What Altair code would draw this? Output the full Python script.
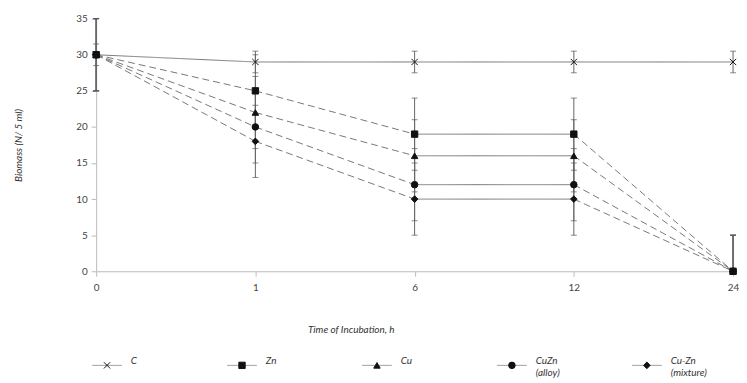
import altair as alt
import pandas as pd

times = ["0", "1", "6", "12", "24"]
series = ["C", "Zn", "Cu", "CuZn (alloy)", "Cu-Zn (mixture)"]
legend_text = ["C", "Zn", "Cu", "CuZn\n(alloy)", "Cu-Zn\n(mixture)"]
values = {
    "C": [30, 29, 29, 29, 29],
    "Zn": [30, 25, 19, 19, 0],
    "Cu": [30, 22, 16, 16, 0],
    "CuZn (alloy)": [30, 20, 12, 12, 0],
    "Cu-Zn (mixture)": [30, 18, 10, 10, 0],
}
errors = {
    "C": [1.5, 1.5, 1.5, 1.5, 1.5],
    "Zn": [5, 5, 5, 5, 5],
    "Cu": [5, 5, 5, 5, 5],
    "CuZn (alloy)": [5, 5, 5, 5, 5],
    "Cu-Zn (mixture)": [5, 5, 5, 5, 5],
}
segment_style = ["dashed", "dashed", "solid", "dashed"]

shape_range = [
    "M-1,-1L1,1M-1,1L1,-1",
    "square",
    "triangle-up",
    "circle",
    "diamond",
]
size_range = [40, 45, 45, 50, 18]

FONT = "Lato"

pts = []
for s in series:
    for t, v, e in zip(times, values[s], errors[s]):
        pts.append({"series": s, "time": t, "value": v,
                    "lo": max(0, v - e), "hi": v + e})
pts = pd.DataFrame(pts)

seg = []
for s in series:
    v = values[s]
    for i in range(len(times) - 1):
        style = "solid" if s == "C" else segment_style[i]
        for j in (i, i + 1):
            seg.append({"series": s, "seg": f"{s}-{i}", "style": style,
                        "time": times[j], "value": v[j]})
seg = pd.DataFrame(seg)

x_scale = alt.Scale(type="point", padding=0)
x_axis = alt.Axis(title="Time of Incubation, h", labelAngle=0,
                  titleX=257, titleY=54, titleFontStyle="italic",
                  titleFontWeight="normal", titleFontSize=10,
                  labelFontSize=10, labelColor="#444",
                  titleColor="#333", domainColor="#bbb",
                  tickColor="#bbb", tickSize=5, labelPadding=6,
                  labelFont=FONT, titleFont=FONT)
y_scale = alt.Scale(domain=[0, 35])
y_axis = alt.Axis(title="Biomass (N/ 5 ml)", values=list(range(0, 36, 5)),
                  grid=False, titleFontStyle="italic", titleFontWeight="normal",
                  titleFontSize=10, titlePadding=53, labelFontSize=10,
                  labelColor="#444", titleColor="#333", domainColor="#bbb",
                  tickColor="#bbb", tickSize=5, labelPadding=4,
                  labelFont=FONT, titleFont=FONT)


def X():
    return alt.X("time:O", sort=times, scale=x_scale, axis=x_axis)


def Y(field):
    return alt.Y(field, type="quantitative", scale=y_scale, axis=y_axis)


lines = alt.Chart(seg).mark_line(color="#777", strokeWidth=1).encode(
    x=X(),
    y=Y("value"),
    detail="seg:N",
    strokeDash=alt.StrokeDash("style:N",
                              scale=alt.Scale(domain=["solid", "dashed"],
                                              range=[[1, 0], [7, 4]]),
                              legend=None),
)

err_rule = alt.Chart(pts).mark_rule(color="#666", strokeWidth=1).encode(
    x=X(), y=Y("lo"), y2="hi:Q",
)
cap_lo = alt.Chart(pts).mark_tick(color="#555", orient="horizontal",
                                  size=6, thickness=1).encode(
    x=X(), y=Y("lo"))
cap_hi = alt.Chart(pts).mark_tick(color="#555", orient="horizontal",
                                  size=6, thickness=1).encode(
    x=X(), y=Y("hi"))

points = alt.Chart(pts).mark_point(filled=True, color="#111", stroke="#111",
                                   strokeWidth=1, opacity=1).encode(
    x=X(),
    y=Y("value"),
    shape=alt.Shape("series:N", sort=series,
                    scale=alt.Scale(domain=series, range=shape_range),
                    legend=None),
    size=alt.Size("series:N", sort=series,
                  scale=alt.Scale(domain=series, range=size_range),
                  legend=None),
)

main = alt.layer(lines, err_rule, cap_lo, cap_hi, points).properties(
    width=643, height=255)

leg = pd.DataFrame({"series": series, "label": legend_text})
lx = alt.X("series:N", sort=series, axis=None,
           scale=alt.Scale(type="point", padding=0, range=[11, 556]))
leg_line = alt.Chart(leg).mark_tick(orient="horizontal", size=30, thickness=1,
                                    color="#777").encode(
    x=lx, y=alt.value(12))
leg_pt = alt.Chart(leg).mark_point(filled=True, color="#111", stroke="#111",
                                   strokeWidth=1, opacity=1).encode(
    x=lx, y=alt.value(12),
    shape=alt.Shape("series:N", sort=series,
                    scale=alt.Scale(domain=series, range=shape_range),
                    legend=None),
    size=alt.Size("series:N", sort=series,
                  scale=alt.Scale(domain=series, range=size_range),
                  legend=None),
)
leg_txt = alt.Chart(leg).mark_text(align="left", baseline="middle", dx=24,
                                   dy=-4, fontSize=10, fontStyle="italic",
                                   font=FONT, color="#333",
                                   lineBreak="\n").encode(
    x=lx, y=alt.value(12), text="label:N")
legend = alt.layer(leg_line, leg_pt, leg_txt).properties(width=643, height=24)

chart = alt.vconcat(main, legend, spacing=19).resolve_scale(
    shape="independent", size="independent", x="independent"
).properties(padding={"left": 5, "top": 4, "right": 0, "bottom": 0}
).configure_view(stroke=None)

chart.save("out.html", embed_options={"renderer": "svg", "actions": False})
